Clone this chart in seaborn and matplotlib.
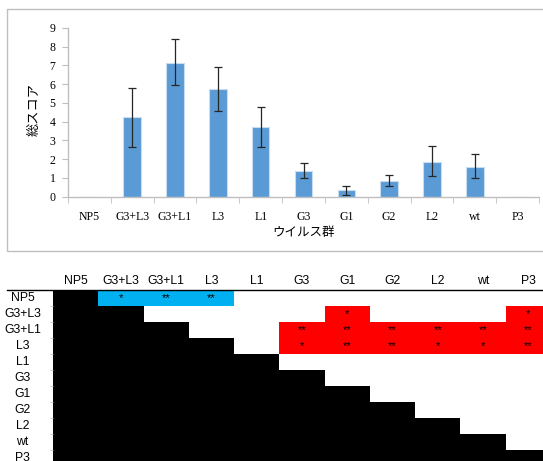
import numpy as np
import pandas as pd
import matplotlib
matplotlib.use("Agg")
import matplotlib.pyplot as plt
import seaborn as sns
from matplotlib.colors import ListedColormap
from matplotlib.patches import Rectangle
from matplotlib.lines import Line2D

# --- data ---
groups = ["NP5", "G3+L3", "G3+L1", "L3", "L1", "G3", "G1", "G2", "L2", "wt", "P3"]
scores = [0.0, 4.23, 7.15, 5.76, 3.72, 1.37, 0.36, 0.85, 1.87, 1.60, 0.0]
err_lo = [0.0, 1.56, 1.18, 1.17, 1.05, 0.37, 0.27, 0.26, 0.78, 0.59, 0.0]
err_hi = [0.0, 1.58, 1.24, 1.16, 1.05, 0.41, 0.19, 0.32, 0.82, 0.66, 0.0]
yticks = list(range(0, 10))

# significance table (row group -> stars per column)
sig_np5 = ["", "*", "**", "**", "", "", "", "", "", "", ""]
sig_g3l3 = ["", "", "", "", "", "", "*", "", "", "", "*"]
sig_g3l1 = ["", "", "", "", "", "**", "**", "**", "**", "**", "**"]
sig_l3 = ["", "", "", "", "", "*", "**", "**", "*", "*", "**"]
sig_rows = {"NP5": sig_np5, "G3+L3": sig_g3l3, "G3+L1": sig_g3l1, "L3": sig_l3}

W, H = 543, 461
fig = plt.figure(figsize=(W / 100, H / 100), dpi=100)

serif_jp = ["Liberation Serif", "Noto Sans CJK JP"]
gray = "#BFBFBF"

# outer frame of the chart
fig.add_artist(Rectangle((7 / W, 1 - 251 / H), 1.0, (251 - 9) / H,
                         transform=fig.transFigure, fill=False,
                         edgecolor=gray, linewidth=1))

# --- bar chart ---
ax = fig.add_axes([68 / W, 1 - 196.7 / H, 471 / W, 168.7 / H])
df = pd.DataFrame({"group": groups, "score": scores})
sns.barplot(data=df, x="group", y="score", color="#5B9BD5", saturation=1,
            width=0.41, edgecolor="#C9DDF0", linewidth=0.8, ax=ax)
pos = np.arange(len(groups))
mask = np.array(scores) > 0
ax.errorbar(pos[mask], np.array(scores)[mask],
            yerr=[np.array(err_lo)[mask], np.array(err_hi)[mask]],
            fmt="none", ecolor="#262626", elinewidth=0.9, capsize=3.2, capthick=0.9)

ax.set_ylim(0, 9)
ax.set_xlim(-0.5, len(groups) - 0.5)
ax.set_yticks(yticks)
ax.set_yticklabels([str(t) for t in yticks], family="Liberation Serif", fontsize=8.5)
ax.set_xticks(pos)
ax.set_xticklabels(groups, family="Liberation Serif", fontsize=8.5)
ax.set_xticks(np.arange(-0.5, len(groups)), minor=True)
ax.tick_params(axis="x", which="major", length=0, pad=10)
ax.tick_params(axis="x", which="minor", length=4, color=gray, direction="out")
ax.tick_params(axis="y", length=4, color=gray, pad=5)
ax.set_xlabel("")
ax.set_ylabel("")
for s in ["top", "right"]:
    ax.spines[s].set_visible(False)
for s in ["left", "bottom"]:
    ax.spines[s].set_color(gray)
    ax.spines[s].set_linewidth(1)

fig.text(304 / W, 1 - 232.5 / H, "ウイルス群", family=serif_jp, fontsize=9,
         ha="center", va="center")
fig.text(35 / W, 1 - 110 / H, "総スコア", family=serif_jp, fontsize=9.5,
         ha="center", va="center", rotation=90)

# --- significance table ---
n = len(groups)
cell = np.zeros((n, n), dtype=int)
annot = np.full((n, n), "", dtype=object)
for i, g in enumerate(groups):
    for j in range(n):
        if j <= i:
            cell[i, j] = 1
    if g in sig_rows:
        for j, st in enumerate(sig_rows[g]):
            if st:
                annot[i, j] = st
                cell[i, j] = 2 if g == "NP5" else 3
tab = pd.DataFrame(cell, index=groups, columns=groups)

tax = fig.add_axes([53 / W, 1 - 466 / H, 498 / W, 176 / H])
sns.heatmap(tab, ax=tax, cmap=ListedColormap(["white", "black", "#00B0F0", "#FF0000"]),
            vmin=-0.5, vmax=3.5, cbar=False, annot=annot, fmt="",
            annot_kws={"fontsize": 8, "color": "black", "family": "Liberation Sans"},
            linewidths=0)
tax.xaxis.tick_top()
tax.set_xticks(np.arange(n) + 0.5)
tax.set_xticklabels(groups, family="Liberation Sans", fontsize=8.8, rotation=0)
tax.set_yticks(np.arange(n) + 0.5)
tax.set_yticklabels(groups, family="Liberation Sans", fontsize=8.8, rotation=0, ha="center")
tax.tick_params(axis="x", length=0, pad=2)
tax.tick_params(axis="y", length=0, pad=22)
tax.set_yticks(np.arange(n + 1), minor=True)
tax.tick_params(axis="y", which="minor", length=2, color=gray)
tax.set_xlabel("")
tax.set_ylabel("")

fig.add_artist(Line2D([7 / W, 1.0], [1 - 290 / H, 1 - 290 / H],
                      transform=fig.transFigure, color="black", linewidth=1))

fig.savefig("out.png", dpi=100)
